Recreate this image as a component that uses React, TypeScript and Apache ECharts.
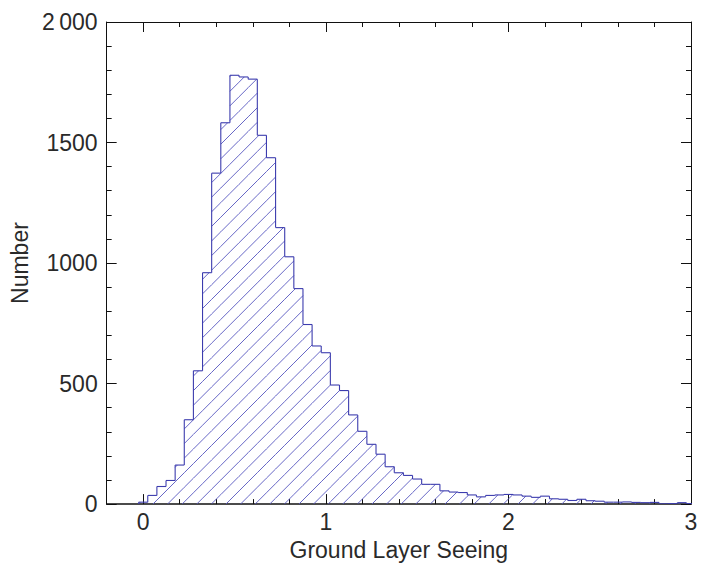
import React, { useEffect, useRef } from "react";
import * as echarts from "echarts";

// Histogram bin centres (Ground Layer Seeing) and counts
const BIN_WIDTH = 0.05;
const BIN_CENTERS: number[] = [
  0.0, 0.05, 0.1, 0.15, 0.2, 0.25, 0.3, 0.35, 0.4, 0.45,
  0.5, 0.55, 0.6, 0.65, 0.7, 0.75, 0.8, 0.85, 0.9, 0.95,
  1.0, 1.05, 1.1, 1.15, 1.2, 1.25, 1.3, 1.35, 1.4, 1.45,
  1.5, 1.55, 1.6, 1.65, 1.7, 1.75, 1.8, 1.85, 1.9, 1.95,
  2.0, 2.05, 2.1, 2.15, 2.2, 2.25, 2.3, 2.35, 2.4, 2.45,
  2.5, 2.55, 2.6, 2.65, 2.7, 2.75, 2.8, 2.85, 2.9, 2.95, 3.0,
];
const COUNTS: number[] = [
  8, 36, 73, 98, 162, 350, 553, 960, 1373, 1582,
  1779, 1772, 1763, 1530, 1437, 1147, 1026, 894, 745, 656,
  628, 494, 471, 370, 302, 248, 207, 155, 130, 119,
  104, 82, 82, 55, 50, 48, 38, 30, 36, 38,
  40, 38, 33, 28, 33, 22, 20, 15, 20, 14,
  12, 8, 8, 9, 7, 6, 7, 1, 2, 6, 2,
];

const X_MAJOR: number[] = [0, 1, 2, 3];
const X_MINOR: number[] = [-0.2, 0.2, 0.4, 0.6, 0.8, 1.2, 1.4, 1.6, 1.8, 2.2, 2.4, 2.6, 2.8];
const Y_TICKS: number[] = [0, 500, 1000, 1500, 2000];

const FONT = "'Liberation Sans', Arial, sans-serif";
const TEXT_COLOR = "#2a2a2a";
const AXIS_COLOR = "#111";
const OUTLINE = "#3c3cae";
const HATCH = "#5656c0";
const HATCH_STEP = 14.6;

function xAxisCfg(position: "top" | "bottom", major: boolean, withLabels: boolean): any {
  return {
    type: "value",
    min: -0.2,
    max: 3,
    position,
    axisLine: {
      show: major,
      onZero: false,
      lineStyle: { color: AXIS_COLOR, width: position === "bottom" ? 1.6 : 1 },
    },
    axisTick: {
      show: true,
      inside: true,
      length: major ? 10 : 5,
      customValues: major ? X_MAJOR : X_MINOR,
      lineStyle: { color: AXIS_COLOR, width: 1 },
    },
    axisLabel: withLabels
      ? { show: true, customValues: X_MAJOR, fontSize: 23, color: TEXT_COLOR, fontFamily: FONT, margin: 6 }
      : { show: false },
    splitLine: { show: false },
    ...(withLabels
      ? {
          name: "Ground Layer Seeing",
          nameLocation: "middle",
          nameGap: 26,
          nameTextStyle: { fontSize: 23, color: TEXT_COLOR, fontFamily: FONT },
        }
      : {}),
  };
}

function yAxisCfg(position: "left" | "right", withLabels: boolean): any {
  return {
    type: "value",
    min: 0,
    max: 2000,
    interval: 500,
    position,
    axisLine: { show: true, onZero: false, lineStyle: { color: AXIS_COLOR, width: 1 } },
    axisTick: { show: true, inside: true, length: 10, lineStyle: { color: AXIS_COLOR, width: 1 } },
    minorTick: { show: true, splitNumber: 5, length: 5, lineStyle: { color: AXIS_COLOR, width: 1 } },
    axisLabel: withLabels
      ? {
          show: true,
          fontSize: 23,
          color: TEXT_COLOR,
          fontFamily: FONT,
          margin: 9,
          customValues: Y_TICKS,
          formatter: (v: number) => (v === 2000 ? "2\u2009000" : String(v)),
        }
      : { show: false },
    splitLine: { show: false },
    minorSplitLine: { show: false },
    ...(withLabels
      ? {
          name: "Number",
          nameLocation: "middle",
          nameGap: 71,
          nameTextStyle: { fontSize: 23, color: TEXT_COLOR, fontFamily: FONT },
        }
      : {}),
  };
}

export default function App() {
  const ref = useRef<HTMLDivElement>(null);

  useEffect(() => {
    if (!ref.current) return;
    const chart = echarts.init(ref.current, null, { renderer: "svg" });
    const data = BIN_CENTERS.map((c, i) => [c, COUNTS[i]]);
    const last = BIN_CENTERS.length - 1;

    const renderItem = (params: any, api: any) => {
      const i = params.dataIndex;
      const x = api.value(0);
      const h = api.value(1);
      const [xl, yTop] = api.coord([x - BIN_WIDTH / 2, h]);
      const [xr, yBase] = api.coord([x + BIN_WIDTH / 2, 0]);
      const prevH = i > 0 ? COUNTS[i - 1] : 0;
      const [, yPrev] = api.coord([x - BIN_WIDTH / 2, prevH]);
      const children: any[] = [];
      // hatch lines "/" : y = c - x in screen coords
      if (h > 0) {
        const cMin = xl + yTop;
        const cMax = xr + yBase;
        let c = Math.ceil(cMin / HATCH_STEP) * HATCH_STEP;
        for (; c <= cMax; c += HATCH_STEP) {
          const lo = Math.max(xl, c - yBase);
          const hi = Math.min(xr, c - yTop);
          if (hi > lo) {
            children.push({
              type: "line",
              shape: { x1: lo, y1: c - lo, x2: hi, y2: c - hi },
              style: { stroke: HATCH, lineWidth: 0.9 },
              silent: true,
            });
          }
        }
      }
      children.push({
        type: "line",
        shape: { x1: xl, y1: yPrev, x2: xl, y2: yTop },
        style: { stroke: OUTLINE, lineWidth: 1.1 },
      });
      children.push({
        type: "line",
        shape: { x1: xl, y1: yTop, x2: xr, y2: yTop },
        style: { stroke: OUTLINE, lineWidth: 1.1 },
      });
      if (i === last) {
        children.push({
          type: "line",
          shape: { x1: xr, y1: yTop, x2: xr, y2: yBase },
          style: { stroke: OUTLINE, lineWidth: 1.1 },
        });
      }
      return { type: "group", children };
    };

    chart.setOption({
      animation: false,
      backgroundColor: "#ffffff",
      grid: { left: 104, right: 23, top: 22, bottom: 58, containLabel: false },
      xAxis: [
        xAxisCfg("bottom", true, true),
        xAxisCfg("bottom", false, false),
        xAxisCfg("top", true, false),
        xAxisCfg("top", false, false),
      ],
      yAxis: [yAxisCfg("left", true), yAxisCfg("right", false)],
      series: [
        {
          type: "custom",
          xAxisIndex: 0,
          yAxisIndex: 0,
          renderItem,
          data,
          clip: true,
          z: 1,
        },
      ],
    });
    return () => chart.dispose();
  }, []);

  return (
    <div
      ref={ref}
      style={{ position: "absolute", left: 0, top: 0, width: 714, height: 566, background: "#fff" }}
    />
  );
}
